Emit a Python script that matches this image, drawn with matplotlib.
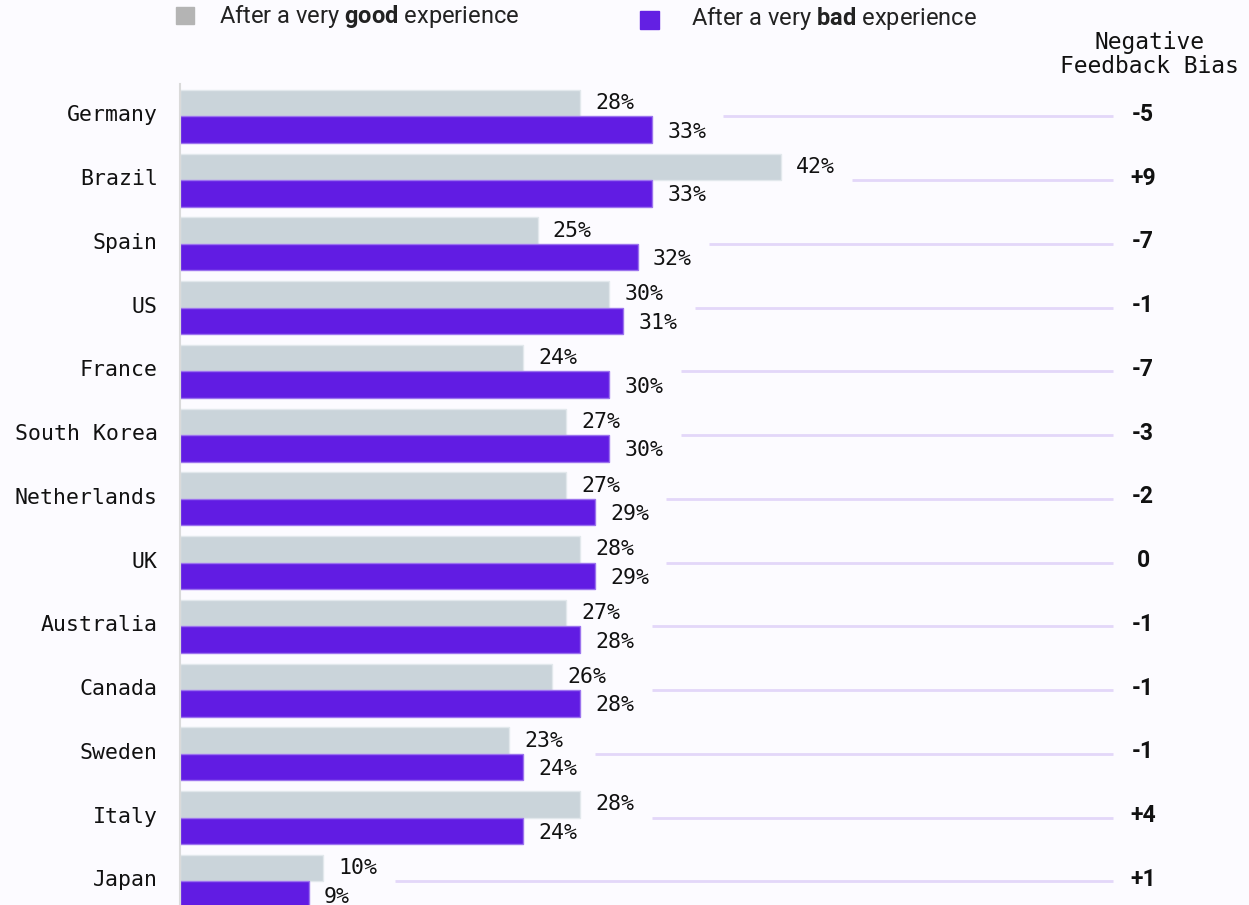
import matplotlib
matplotlib.use("Agg")
import matplotlib.pyplot as plt
from matplotlib.patches import Rectangle
from matplotlib.transforms import ScaledTranslation

# Share of customers leaving feedback, by country
countries = ["Germany", "Brazil", "Spain", "US", "France", "South Korea",
             "Netherlands", "UK", "Australia", "Canada", "Sweden", "Italy", "Japan"]
good_pct = [28, 42, 25, 30, 24, 27, 27, 28, 27, 26, 23, 28, 10]
bad_pct = [33, 33, 32, 31, 30, 30, 29, 29, 28, 28, 24, 24, 9]
bias = ["-5", "+9", "-7", "-1", "-7", "-3", "-2", "0", "-1", "-1", "-1", "+4", "+1"]

GOOD_COLOR = "#CAD4DA"
BAD_COLOR = "#611CE3"
LINE_COLOR = "#E3D7F9"
BG = "#FCFBFF"
MONO = "DejaVu Sans Mono"

plt.rcParams["mathtext.fontset"] = "custom"
plt.rcParams["mathtext.rm"] = "Roboto"
plt.rcParams["mathtext.bf"] = "Roboto:bold"

W, H = 1249, 905
fig = plt.figure(figsize=(W / 100, H / 100), dpi=100, facecolor=BG)

# axes: left edge at the zero line, bottom runs off the canvas
ax_top = 84
ax = fig.add_axes([180 / W, 0, 1 - 180 / W, 1 - ax_top / H])
ax.set_facecolor(BG)

px_per_pct = 14.3
row_pitch = 63.75
row0 = 116.3
ax.set_xlim(0, (W - 180) / px_per_pct)
ax.set_ylim((H - row0) / row_pitch, (ax_top - row0) / row_pitch)

h = 26.5 / row_pitch
ys = list(range(len(countries)))
ax.barh([y - h / 2 for y in ys], good_pct, height=h, color=GOOD_COLOR,
        edgecolor="#E2E8EC", linewidth=1)
ax.barh([y + h / 2 for y in ys], bad_pct, height=h, color=BAD_COLOR,
        edgecolor="#9C73EE", linewidth=1)

line_end = (1113 - 180) / px_per_pct
for y, g, b, lab in zip(ys, good_pct, bad_pct, bias):
    ax.annotate(f"{g}%", (g, y - h / 2), xytext=(11, 0), textcoords="offset points",
                ha="left", va="center", fontsize=15.5, family=MONO, color="#111111")
    ax.annotate(f"{b}%", (b, y + h / 2), xytext=(11, -1.5), textcoords="offset points",
                ha="left", va="center", fontsize=15.5, family=MONO, color="#111111")
    ax.hlines(y, max(g, b) + 5.0, line_end, color=LINE_COLOR, linewidth=2)
    ax.text((1143 - 180) / (W - 180), y - 0.03, lab, transform=ax.get_yaxis_transform(),
            ha="center", va="center", fontsize=16.5, family="Roboto",
            fontweight="bold", color="#111111")

ax.set_yticks(ys)
ax.set_yticklabels(countries, family=MONO, fontsize=15.5, color="#111111")
ax.tick_params(axis="y", length=0, pad=16)
shift_up = ScaledTranslation(0, 3 / 100, fig.dpi_scale_trans)
for t in ax.get_yticklabels():
    t.set_transform(t.get_transform() + shift_up)
ax.set_xticks([])
for s in ["top", "right", "bottom"]:
    ax.spines[s].set_visible(False)
ax.spines["left"].set_color("#DADADA")
ax.spines["left"].set_linewidth(1.5)

# column header
fig.text(1149 / W, 1 - 54.5 / H, "Negative\nFeedback Bias", ha="center", va="center",
         family=MONO, fontsize=16.5, linespacing=1.05, color="#111111")

# legend
fig.add_artist(Rectangle((176 / W, 1 - 24 / H), 18 / W, 17 / H,
                         transform=fig.transFigure, color="#B4B4B4"))
fig.text(219 / W, 1 - 16 / H, r"After a very $\mathbf{good}$ experience",
         family="Roboto", fontsize=17, color="#222222", va="center")
fig.add_artist(Rectangle((640 / W, 1 - 29 / H), 19 / W, 18 / H,
                         transform=fig.transFigure, color="#6320E3"))
fig.text(691 / W, 1 - 19 / H, r"After a very $\mathbf{bad}$ experience",
         family="Roboto", fontsize=17, color="#222222", va="center")

fig.savefig("out.png", dpi=100, facecolor=BG)
